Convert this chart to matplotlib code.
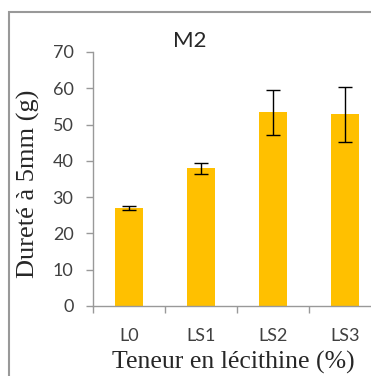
import numpy as np
import matplotlib.pyplot as plt
from matplotlib.patches import Rectangle

# Dureté (g) par teneur en lécithine, échantillon M2
categories = ['L0', 'LS1', 'LS2', 'LS3']
durete = [27.0, 38.0, 53.4, 52.8]
ecart = [0.6, 1.5, 6.2, 7.6]

plt.rcParams['font.family'] = 'Lato'

fig = plt.figure(figsize=(3.71, 3.76), dpi=100)
ax = fig.add_axes([93/371, 70/376, 288/371, 254/376])

x = np.arange(len(categories))
ax.bar(x, durete, width=0.4, color='#FFC000', zorder=2)
ax.errorbar(x, durete, yerr=ecart, fmt='none', ecolor='black', elinewidth=1,
            capsize=5, capthick=1, zorder=3)

ax.set_xlim(-0.5, 3.5)
ax.set_ylim(0, 70)
ax.set_yticks(np.arange(0, 71, 10))
ax.set_xticks(x)
ax.set_xticklabels(categories)
ax.set_xticks(np.arange(-0.5, 3.6, 1), minor=True)

for s in ['top', 'right']:
    ax.spines[s].set_visible(False)
for s in ['left', 'bottom']:
    ax.spines[s].set_color('#999999')
    ax.spines[s].set_linewidth(1)

ax.tick_params(axis='y', length=5, width=1, color='#999999', pad=9,
               labelsize=13, labelcolor='#404040')
ax.tick_params(axis='x', which='major', length=0, pad=16,
               labelsize=13, labelcolor='#404040')
ax.tick_params(axis='x', which='minor', length=5, width=1, color='#999999')

fig.text(190/371, (376-47)/376, 'M2', ha='center', va='baseline',
         fontsize=16, color='#262626')
fig.text(35/371, (376-184)/376, 'Dureté à 5mm (g)', rotation=90,
         rotation_mode='anchor', ha='center', va='baseline',
         fontsize=19, family='Liberation Serif', color='#262626')
fig.text(233/371, (376-369)/376, 'Teneur en lécithine (%)', ha='center',
         va='baseline', fontsize=18.5, family='Liberation Serif', color='#262626')

# cadre gris autour du graphique
fig.patches.append(Rectangle((9/371, -0.2), 1.5, (376-12)/376 + 0.2,
                             transform=fig.transFigure, fill=False,
                             edgecolor='#999999', linewidth=1.5))

fig.savefig('out.png', dpi=100)
